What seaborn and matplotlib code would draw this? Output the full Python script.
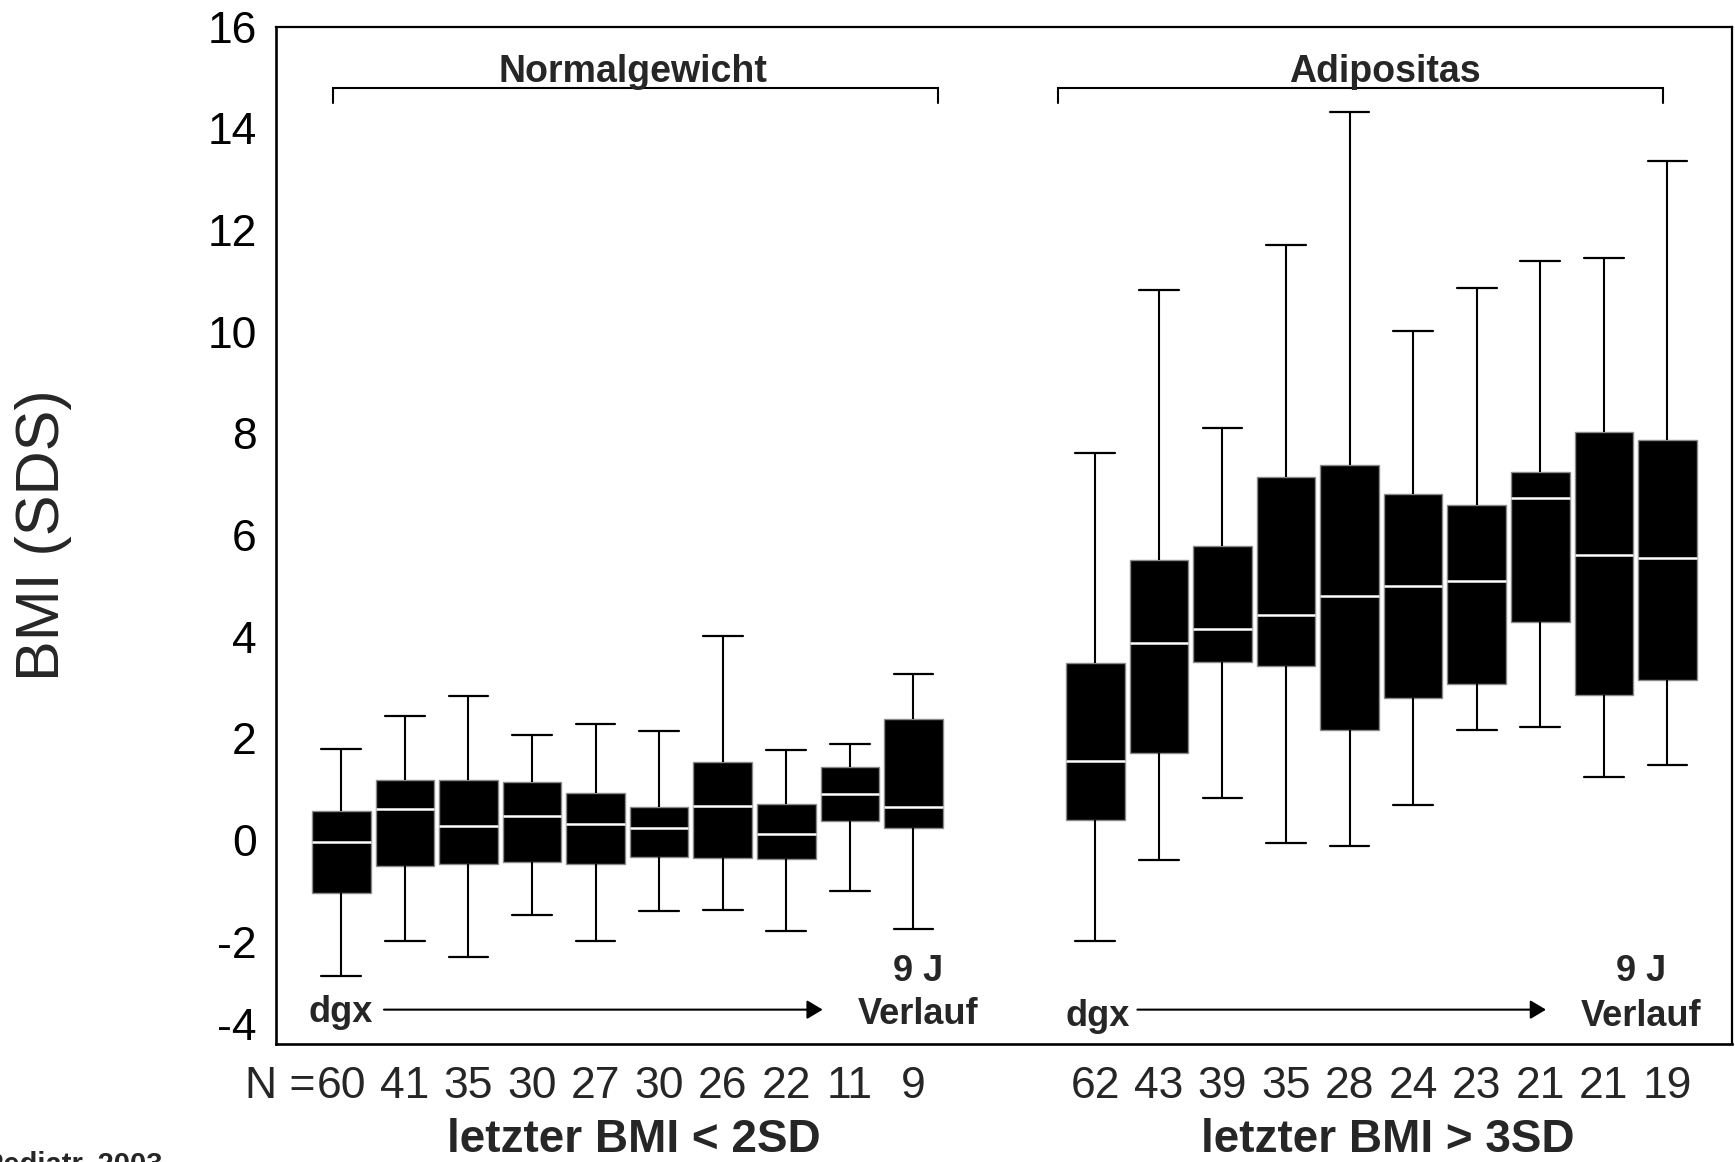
import numpy as np
import pandas as pd
import matplotlib
matplotlib.use("Agg")
import matplotlib.pyplot as plt
import matplotlib.transforms as mtransforms
import seaborn as sns

# ---------------- data ----------------
groups = ["letzter BMI < 2SD", "letzter BMI > 3SD"]
timepoints = [f"t{i}" for i in range(1, 11)]

norm_low = [-2.68, -1.98, -2.29, -1.48, -1.98, -1.40, -1.37, -1.78, -1.00, -1.74]
norm_q1 = [-1.04, -0.50, -0.46, -0.43, -0.46, -0.34, -0.35, -0.37, 0.37, 0.24]
norm_med = [-0.04, 0.62, 0.28, 0.47, 0.31, 0.24, 0.67, 0.13, 0.91, 0.65]
norm_q3 = [0.58, 1.19, 1.19, 1.15, 0.92, 0.65, 1.54, 0.72, 1.43, 2.39]
norm_high = [1.79, 2.45, 2.83, 2.06, 2.29, 2.14, 4.02, 1.78, 1.89, 3.26]

adip_low = [-1.98, -0.39, 0.82, -0.05, -0.12, 0.70, 2.17, 2.22, 1.24, 1.48]
adip_q1 = [0.39, 1.71, 3.50, 3.42, 2.17, 2.80, 3.07, 4.30, 2.85, 3.15]
adip_med = [1.56, 3.88, 4.15, 4.42, 4.81, 5.00, 5.09, 6.72, 5.61, 5.54]
adip_q3 = [3.49, 5.51, 5.78, 7.14, 7.37, 6.80, 6.59, 7.24, 8.02, 7.87]
adip_high = [7.61, 10.83, 8.11, 11.70, 14.33, 10.02, 10.87, 11.39, 11.46, 13.35]

n_norm = [60, 41, 35, 30, 27, 30, 26, 22, 11, 9]
n_adip = [62, 43, 39, 35, 28, 24, 23, 21, 21, 19]

yticks = [16, 14, 12, 10, 8, 6, 4, 2, 0, -2, -4]
ytick_labels = ["16", "14", "12", "10", "8", "6", "4", "2", "0", "-2", "-4"]

# ---------------- build long table (5-number summary per box) ----------------
rows = []
summaries = {
    groups[0]: (norm_low, norm_q1, norm_med, norm_q3, norm_high),
    groups[1]: (adip_low, adip_q1, adip_med, adip_q3, adip_high),
}
for g, arrs in summaries.items():
    for i, t in enumerate(timepoints):
        for arr in arrs:
            rows.append({"Gruppe": g, "Zeitpunkt": t, "BMI": arr[i]})
df = pd.DataFrame(rows)

# ---------------- style ----------------
sns.set_style("white")
plt.rcParams["font.family"] = ["Liberation Sans", "DejaVu Sans"]
plt.rcParams["axes.unicode_minus"] = False

W, H = 1735, 1162
fig = plt.figure(figsize=(W / 100, H / 100), dpi=100)
L, R, T, B = 276, 1732, 26.7, 1043.5
ax = fig.add_axes([L / W, 1 - B / H, (R - L) / W, (B - T) / H])

BOX_WIDTH = 0.843
GAP = 0.08
sns.boxplot(
    data=df, x="Gruppe", y="BMI", hue="Zeitpunkt",
    order=groups, hue_order=timepoints,
    palette={t: "black" for t in timepoints},
    width=BOX_WIDTH, gap=GAP, whis=(0, 100), dodge=True,
    showfliers=False, legend=False, ax=ax,
    linecolor="black", linewidth=1.5,
    boxprops=dict(facecolor="black", edgecolor="#8a8a8a", linewidth=1.0),
    medianprops=dict(color="white", linewidth=1.8),
    whiskerprops=dict(color="black", linewidth=1.5),
    capprops=dict(color="black", linewidth=1.6),
)

slot = BOX_WIDTH / len(timepoints)
box_w = slot * (1 - GAP)
# caps about two thirds of the box width
for cont in ax.containers:
    caps = getattr(cont, "caps", [])
    for cap in caps:
        xs = np.asarray(cap.get_xdata(), dtype=float)
        c = xs.mean()
        half = 0.34 * box_w
        cap.set_xdata([c - half, c + half])

ax.set_xlim(-0.466, 1.465)
ax.set_ylim(-4, 16)
ax.set_yticks(yticks)
ax.set_yticklabels(ytick_labels, fontsize=32)
ax.set_xticks([0, 1])
ax.set_xticklabels(["", ""])
ax.set_xlabel("")
ax.set_ylabel("")
ax.tick_params(axis="y", direction="out", length=6.5, width=1.5, pad=7.5, colors="black")
ax.tick_params(axis="x", direction="out", length=8, width=1.2, colors="black")
for side, lw in [("left", 1.9), ("bottom", 1.9), ("top", 1.6), ("right", 1.6)]:
    ax.spines[side].set_visible(True)
    ax.spines[side].set_color("black")
    ax.spines[side].set_linewidth(lw)

# shift the "-4" label up, as in the reference
for lab in ax.get_yticklabels():
    if lab.get_text() == "-4":
        lab.set_transform(lab.get_transform() + mtransforms.ScaledTranslation(0, 20 / 100, fig.dpi_scale_trans))

# y label
fig.text(43 / W, 1 - 535 / H, "BMI (SDS)", rotation=90, ha="center", va="center", fontsize=44)

# ---------------- brackets with group titles ----------------
br_top, br_bot = 14.79, 14.50
for (x0, x1), title, xc in [((-0.390, 0.412), "Normalgewicht", 0.008),
                            ((0.5715, 1.374), "Adipositas", 1.0044)]:
    ax.plot([x0, x0, x1, x1], [br_bot, br_top, br_top, br_bot], color="black", lw=1.5,
            solid_joinstyle="miter", clip_on=False)
    ax.text(xc, 14.92, title, ha="center", va="baseline", fontsize=27, fontweight="bold")

# ---------------- dgx -> Verlauf annotations ----------------
arrow_style = "-|>,head_length=0.5,head_width=0.3"
for dgx_x, dgx_y, a0, a1, vx, vy in [(-0.380, -3.576, -0.3228, 0.259, 0.385, -3.615),
                                     (0.624, -3.648, 0.6764, 1.2183, 1.3443, -3.648)]:
    ax.text(dgx_x, dgx_y, "dgx", ha="center", va="baseline", fontsize=26, fontweight="bold")
    ax.annotate("", xy=(a1, -3.334), xytext=(a0, -3.334),
                arrowprops=dict(arrowstyle=arrow_style, color="black", lw=1.5,
                                mutation_scale=19, shrinkA=0, shrinkB=0))
    ax.text(vx, -2.764, "9 J", ha="center", va="baseline", fontsize=26, fontweight="bold")
    ax.text(vx, vy, "Verlauf", ha="center", va="baseline", fontsize=26, fontweight="bold")

# ---------------- N counts and group labels below the axis ----------------
blend = mtransforms.blended_transform_factory(ax.transData, fig.transFigure)
offsets = [-BOX_WIDTH / 2 + slot * (i + 0.5) for i in range(len(timepoints))]
n_y = 1 - 1098 / H
for gi, counts in enumerate([n_norm, n_adip]):
    for off, n in zip(offsets, counts):
        ax.text(gi + off, n_y, str(n), transform=blend, ha="center", va="baseline", fontsize=32)
ax.text(offsets[0] - 0.034, n_y, "N =", transform=blend, ha="right", va="baseline", fontsize=32)

lab_y = 1 - 1152 / H
for gi, g in enumerate(groups):
    ax.text(gi + 0.008, lab_y, g, transform=blend, ha="center", va="baseline",
            fontsize=33, fontweight="bold")

# source note, cut off at the lower left edge as in the reference
fig.text(162 / W, 1 - 1173 / H, "Pediatr. 2003", ha="right", va="baseline",
         fontsize=21, fontweight="bold")

fig.savefig("out.png", dpi=100)
